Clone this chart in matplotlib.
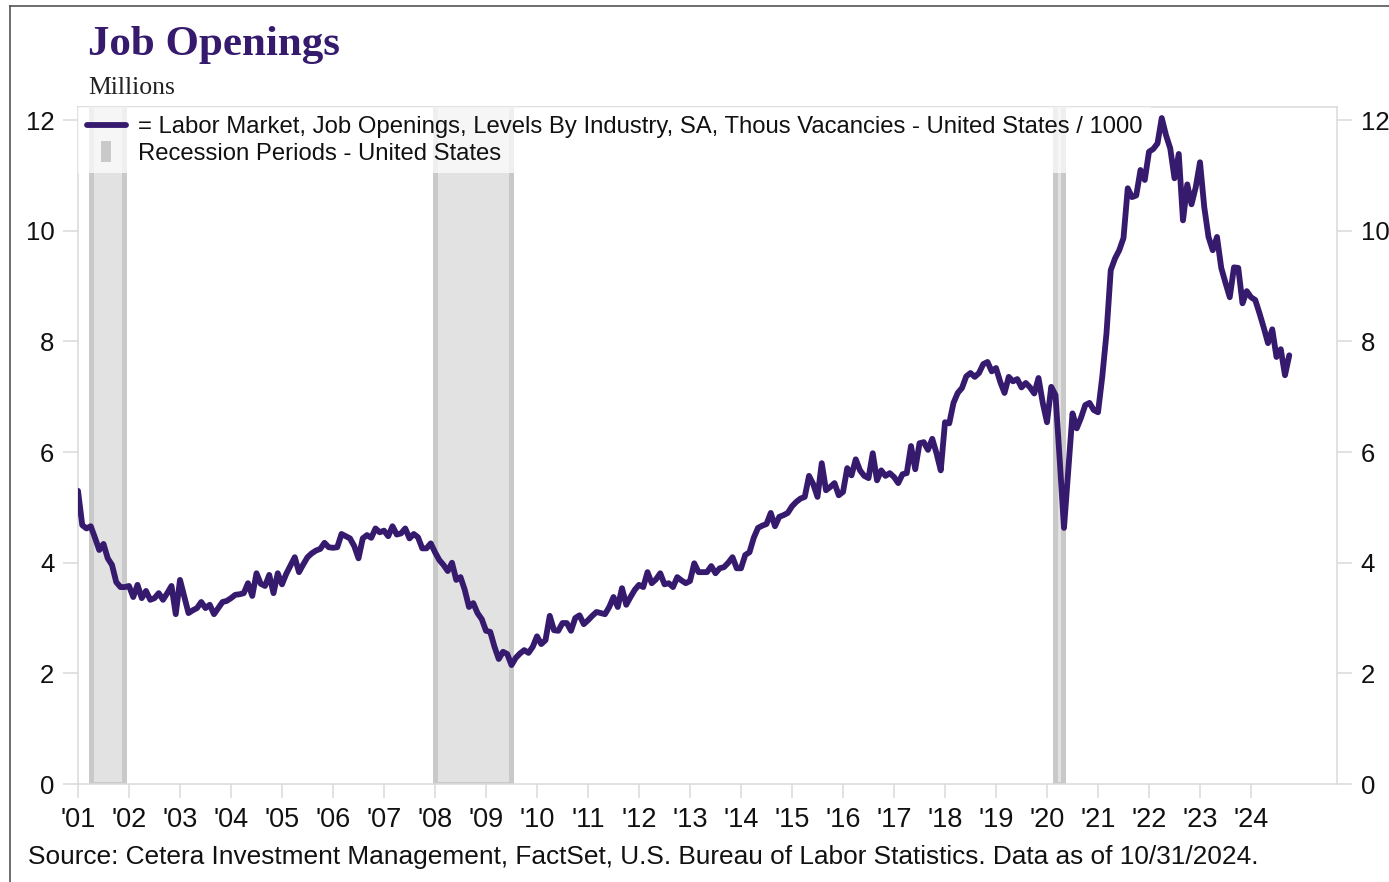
import numpy as np
import matplotlib
matplotlib.use("Agg")
import matplotlib.pyplot as plt
from matplotlib.patches import Rectangle, Patch
from matplotlib.lines import Line2D
from matplotlib.legend_handler import HandlerPatch

# ---------------- data ----------------
# Monthly job openings (millions), first observation Dec 2000, plotted at month end
start_year, start_month = 2000, 12
openings = [
    5.30, 4.68, 4.62, 4.66, 4.45, 4.23, 4.34, 4.08, 3.96, 3.65,
    3.56, 3.56, 3.58, 3.38, 3.60, 3.36, 3.49, 3.33, 3.36, 3.45,
    3.33, 3.45, 3.58, 3.07, 3.69, 3.39, 3.09, 3.14, 3.18, 3.29,
    3.18, 3.24, 3.07, 3.18, 3.29, 3.31, 3.36, 3.42, 3.43, 3.45,
    3.63, 3.40, 3.81, 3.62, 3.58, 3.78, 3.45, 3.81, 3.61, 3.80,
    3.95, 4.10, 3.83, 3.97, 4.10, 4.17, 4.22, 4.25, 4.36, 4.28,
    4.27, 4.28, 4.52, 4.48, 4.44, 4.30, 4.08, 4.44, 4.50, 4.45,
    4.62, 4.55, 4.58, 4.48, 4.66, 4.51, 4.53, 4.62, 4.44, 4.52,
    4.46, 4.26, 4.26, 4.35, 4.19, 4.05, 3.96, 3.85, 4.00, 3.69,
    3.74, 3.51, 3.20, 3.27, 3.09, 2.98, 2.77, 2.75, 2.48, 2.26,
    2.39, 2.35, 2.15, 2.28, 2.36, 2.42, 2.37, 2.48, 2.67, 2.53,
    2.60, 3.04, 2.78, 2.77, 2.91, 2.91, 2.77, 3.00, 3.05, 2.89,
    2.96, 3.04, 3.11, 3.09, 3.07, 3.20, 3.38, 3.20, 3.54, 3.24,
    3.38, 3.51, 3.60, 3.56, 3.83, 3.63, 3.70, 3.81, 3.61, 3.63,
    3.56, 3.74, 3.68, 3.63, 3.67, 3.99, 3.83, 3.83, 3.83, 3.94,
    3.81, 3.90, 3.92, 4.00, 4.10, 3.90, 3.90, 4.14, 4.19, 4.45,
    4.63, 4.67, 4.70, 4.90, 4.66, 4.83, 4.86, 4.90, 5.02, 5.10,
    5.16, 5.19, 5.57, 5.42, 5.19, 5.80, 5.31, 5.37, 5.44, 5.22,
    5.28, 5.71, 5.58, 5.87, 5.67, 5.57, 5.53, 5.98, 5.49, 5.67,
    5.57, 5.62, 5.55, 5.44, 5.60, 5.62, 6.11, 5.69, 6.16, 6.18,
    6.04, 6.24, 5.98, 5.67, 6.54, 6.52, 6.89, 7.07, 7.16, 7.37,
    7.43, 7.36, 7.43, 7.59, 7.63, 7.46, 7.52, 7.27, 7.07, 7.36,
    7.28, 7.32, 7.17, 7.25, 7.17, 7.06, 7.34, 6.89, 6.54, 7.18,
    7.03, 5.85, 4.63, 5.67, 6.70, 6.43, 6.62, 6.85, 6.89, 6.76,
    6.72, 7.36, 8.15, 9.29, 9.50, 9.65, 9.87, 10.77, 10.61, 10.64,
    11.10, 10.92, 11.43, 11.48, 11.58, 12.04, 11.73, 11.49, 10.95, 11.39,
    10.19, 10.84, 10.48, 10.79, 11.24, 10.43, 9.89, 9.65, 9.89, 9.33,
    9.06, 8.80, 9.34, 9.33, 8.69, 8.91, 8.80, 8.75, 8.51, 8.25,
    7.97, 8.22, 7.72, 7.86, 7.39, 7.75,
]
# Recession periods (first month, last month)
recessions = [((2001, 3), (2001, 11)), ((2007, 12), (2009, 6)), ((2020, 2), (2020, 4))]
year_ticks = list(range(2001, 2025))
year_labels = ["'%02d" % (y % 100) for y in year_ticks]
y_ticks = [0, 2, 4, 6, 8, 10, 12]

title = "Job Openings"
subtitle = "Millions"
series_label = ("= Labor Market, Job Openings, Levels By Industry, SA, "
                "Thous Vacancies - United States / 1000")
recession_label = "Recession Periods - United States"
source = ("Source: Cetera Investment Management, FactSet, U.S. Bureau of Labor "
          "Statistics. Data as of 10/31/2024.")

# ---------------- style ----------------
PURPLE = "#361a6e"
SHADE = "#e2e2e2"
SHADE_EDGE = "#c9c9c9"
AXCOL = "#dadada"
SANS = ["Liberation Sans", "DejaVu Sans"]
SERIF = ["Liberation Serif", "DejaVu Serif"]
plt.rcParams["font.family"] = SANS

W, H = 1389, 882
fig = plt.figure(figsize=(W / 100, H / 100), dpi=100)
fig.patch.set_facecolor("white")

ax_l, ax_r, ax_t, ax_b = 78, 1337, 107.5, 784
ax = fig.add_axes([ax_l / W, 1 - ax_b / H, (ax_r - ax_l) / W, (ax_b - ax_t) / H])

x0 = 2001.0
px_per_year = 51.0
ax.set_xlim(x0, x0 + (ax_r - ax_l) / px_per_year)
ax.set_ylim(0, 12.23)

n = len(openings)
t = start_year + (start_month + np.arange(n)) / 12.0

# recession shading (bars with darker border)
xspan = ax.get_xlim()[1] - ax.get_xlim()[0]
dx = 5.0 * xspan / (ax_r - ax_l)
dy = 2.5 * (ax.get_ylim()[1] - ax.get_ylim()[0]) / (ax_b - ax_t)
for (ys, ms), (ye, me) in recessions:
    a = ys + ms / 12.0 - 0.5 / 12.0
    b = ye + me / 12.0 + 0.5 / 12.0
    ax.add_patch(Rectangle((a, 0), b - a, 20, facecolor=SHADE_EDGE,
                           edgecolor="none", zorder=1))
    ax.add_patch(Rectangle((a + dx, dy), b - a - 2 * dx, 20, facecolor=SHADE,
                           edgecolor="none", zorder=1.1))

ax.plot(t, openings, color=PURPLE, lw=4.2, solid_joinstyle="round",
        solid_capstyle="round", zorder=3)

# axes styling
for s in ax.spines.values():
    s.set_color(AXCOL)
    s.set_linewidth(1.1)
ax.set_yticks(y_ticks)
ax.set_yticklabels([str(v) for v in y_ticks])
ax.set_xticks(year_ticks)
ax.set_xticklabels(year_labels)
ax.tick_params(axis="y", which="both", left=True, right=True, labelleft=True,
               labelright=True, length=10.8, width=1.1, color=AXCOL,
               labelsize=18.5, labelcolor="#111111")
ax.tick_params(axis="y", which="both", pad=6.2)
ax.tick_params(axis="x", length=10, width=1.1, color=AXCOL, labelsize=19.5,
               labelcolor="#111111", pad=6.5)
ax.grid(False)


# legend
def narrow_patch(legend, orig_handle, xdescent, ydescent, width, height, fontsize):
    w = width * 0.25
    h = height * 1.25
    return Rectangle((-xdescent + (width - w) / 2, -ydescent + (height - h) / 2), w, h)


handles = [Line2D([], [], color=PURPLE, lw=4.2, solid_capstyle="round"),
           Patch(facecolor=SHADE_EDGE, edgecolor="none")]
leg = ax.legend(handles, [series_label, recession_label], loc="upper left",
                bbox_to_anchor=(0.0, 1.0), fontsize=17.2, frameon=True,
                fancybox=False, framealpha=0.72, facecolor="white",
                edgecolor="none", borderpad=0.36, handlelength=1.65,
                handletextpad=0.5, labelspacing=0.2, borderaxespad=0.0,
                handler_map={Patch: HandlerPatch(patch_func=narrow_patch)})
for txt in leg.get_texts():
    txt.set_color("#111111")
leg.set_zorder(2.5)

# titles and source
fig.text(88 / W, 1 - 55 / H, title, family=SERIF, fontweight="bold",
         fontsize=31, color=PURPLE, ha="left", va="baseline")
fig.text(88 / W, 1 - 94 / H, subtitle, family=SERIF, fontsize=18.5,
         color="#222222", ha="left", va="baseline")
fig.text(28 / W, 1 - 857 / H, source, fontsize=18.9, color="#111111",
         ha="left", va="center")

# outer frame lines (left and top)
fig.add_artist(Line2D([10 / W, 10 / W], [0, 1 - 6 / H], transform=fig.transFigure,
                      color="#555555", lw=1.2))
fig.add_artist(Line2D([10 / W, 1], [1 - 6 / H, 1 - 6 / H], transform=fig.transFigure,
                      color="#555555", lw=1.2))

fig.savefig("out.png", dpi=100, facecolor="white")
